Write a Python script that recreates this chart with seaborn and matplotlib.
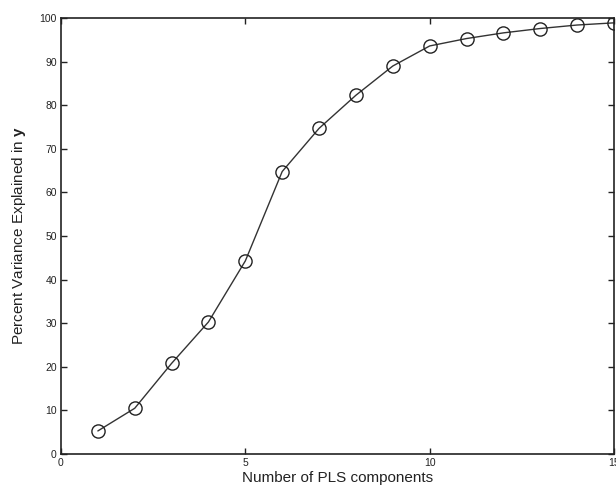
import matplotlib
matplotlib.use("Agg")
import matplotlib.pyplot as plt
import seaborn as sns
import pandas as pd

components = [1, 2, 3, 4, 5, 6, 7, 8, 9, 10, 11, 12, 13, 14, 15]
variance_explained = [5.3, 10.5, 20.8, 30.3, 44.3, 64.8, 74.7, 82.3, 89.0, 93.6, 95.3, 96.6, 97.6, 98.4, 98.9]

sns.set_theme(style="white")
plt.rcParams['font.family'] = ['Liberation Sans', 'DejaVu Sans']
plt.rcParams['mathtext.fontset'] = 'custom'
plt.rcParams['mathtext.bf'] = 'Liberation Sans:bold'
plt.rcParams['mathtext.rm'] = 'Liberation Sans'

df = pd.DataFrame({"k": components, "v": variance_explained})

fig = plt.figure(figsize=(6.16, 4.93), dpi=100)
ax = fig.add_axes([0.099, 0.079, 0.8978, 0.8844])
sns.lineplot(data=df, x="k", y="v", ax=ax, color="#333333", linewidth=1.0,
             marker="o", markersize=9.5, markerfacecolor="none",
             markeredgecolor="#222222", markeredgewidth=1.0)

ax.set_xlim(0, 15)
ax.set_ylim(0, 100)
ax.set_xticks([0, 5, 10, 15])
ax.set_yticks(range(0, 101, 10))
ax.tick_params(direction="in", length=4, width=1, colors="#222222", labelsize=7.5,
               top=True, right=True, bottom=True, left=True, pad=3)
for s in ax.spines.values():
    s.set_visible(True)
    s.set_color("#222222")
    s.set_linewidth(1.2)
ax.set_xlabel("Number of PLS components", fontsize=11, color="#222222", labelpad=2)
ax.set_ylabel(r"Percent Variance Explained in $\mathbf{y}$", fontsize=11, color="#222222", labelpad=8)

fig.savefig("out.png", dpi=100)
